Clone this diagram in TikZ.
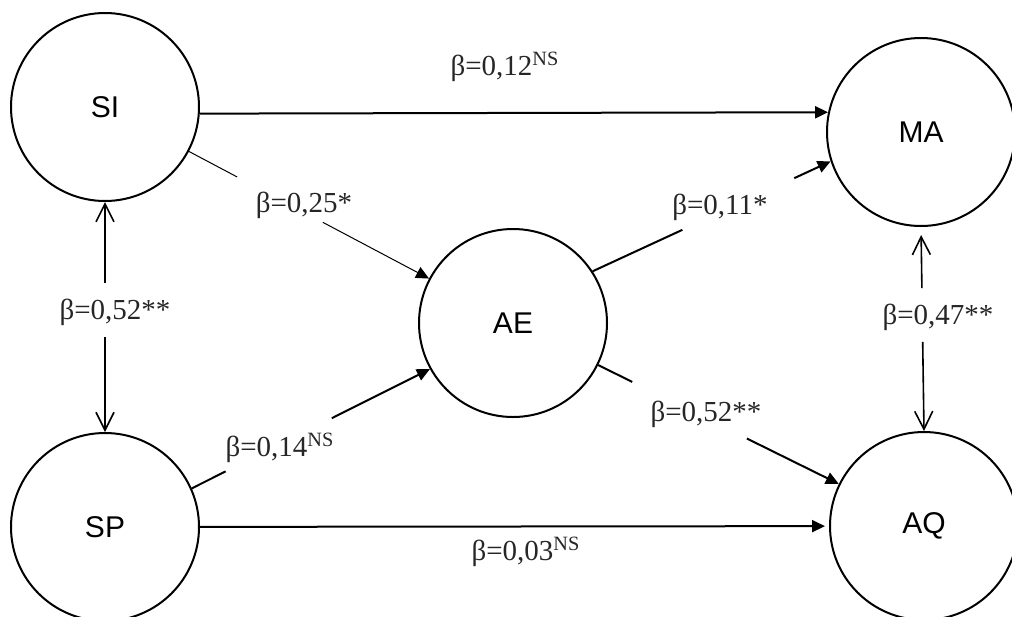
\documentclass[tikz,border=0pt]{standalone}
\usepackage{fontspec}
\setmainfont{Liberation Serif}
\newfontfamily\arialf{Liberation Sans}
\usetikzlibrary{arrows.meta,calc}
\begin{document}
\begin{tikzpicture}[x=0.5pt,y=-0.5pt,
  latent/.style={circle,draw,line width=1pt,minimum size=94pt,inner sep=0pt,
    font=\arialf\fontsize{15}{18}\selectfont},
  arrowline/.style={line width=1pt,-{Triangle[length=6.5pt,width=6pt]}},
  seg/.style={line width=1pt},
  thinseg/.style={line width=0.5pt},
  thinarrow/.style={line width=0.5pt,-{Triangle[length=6.5pt,width=6pt]}},
  corr/.style={line width=0.8pt,-{Straight Barb[length=9pt,width=9pt]}},
  coef/.style={font=\fontsize{14.5}{17}\selectfont,inner sep=0pt,text=black!85}]
\clip (0,0) rectangle (1012,616);

\node[latent] (SI) at (105,107) {SI};
\node[latent] (MA) at (921,132) {MA};
\node[latent] (AE) at (513,323) {AE};
\node[latent] (SP) at (105,527) {SP};
\node[latent] (AQ) at (924,526) {AQ};

% SI -> MA
\draw[arrowline] (SI.-4) -- (MA.168);
\node[coef] (l1) at (505,67) {β=0,12\textsuperscript{NS}};

% SI -> AE
\draw[thinseg] (SI) -- ($(SI)!0.324!(AE)$);
\draw[thinarrow] ($(SI)!0.534!(AE)$) -- (AE);
\node[coef] (l2) at (304,205) {β=0,25*};

% AE -> MA
\draw[seg] (AE.33) -- ($(AE.33)!0.377!(MA.198)$);
\draw[arrowline] ($(AE.33)!0.847!(MA.198)$) -- (MA.198);
\node[coef] (l3) at (720,207) {β=0,11*};

% AE -> AQ
\draw[seg] (AE) -- ($(AE)!0.29!(AQ)$);
\draw[arrowline] ($(AE)!0.569!(AQ)$) -- (AQ);
\node[coef] (l4) at (706,414) {β=0,52**};

% SP -> AE
\draw[seg] (SP.24) -- ($(SP.24)!0.142!(AE.209)$);
\draw[arrowline] ($(SP.24)!0.588!(AE.209)$) -- (AE.209);
\node[coef] (l5) at (280,448) {β=0,14\textsuperscript{NS}};

% SP -> AQ
\draw[arrowline,shorten >=2pt] (SP) -- (AQ);
\node[coef] (l6) at (526,552) {β=0,03\textsuperscript{NS}};

% SI <-> SP
\draw[corr] ($(SI)!0.419!(SP)$) -- (SI);
\draw[corr] ($(SI)!0.548!(SP)$) -- (SP);
\node[coef] (l7) at (115,312) {β=0,52**};

% MA <-> AQ
\draw[corr,shorten >=4pt] ($(MA.south)!0.30!(AQ.north)$) -- (MA.south);
\draw[corr] ($(MA.south)!0.563!(AQ.north)$) -- (AQ.north);
\node[coef] (l8) at (938,317) {β=0,47**};
\end{tikzpicture}
\end{document}
